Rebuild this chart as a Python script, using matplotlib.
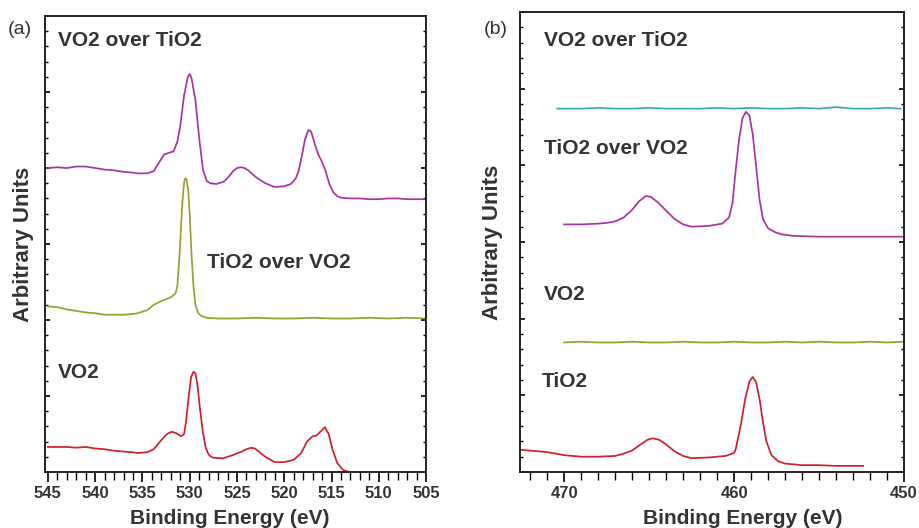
#XPS spectra, O1s/V2p (a) and Ti2p (b) regions, stacked traces
import numpy as np
import matplotlib.pyplot as plt

plt.rcParams['font.family'] = ['Liberation Sans', 'DejaVu Sans']

#panel (a): binding energy and intensity
a_vo2_over_tio2_E = [545, 544, 543, 542, 541, 540, 539, 538, 537, 536, 535.5, 534.5, 533.8, 533.2, 532.7,
                     532.2, 531.7, 531.3, 531.0, 530.6, 530.2, 530.0, 529.8, 529.4, 529.0, 528.6, 528.2,
                     527.8, 527.2, 526.4, 525.9, 525.4, 525.0, 524.6, 524.2, 523.8, 523.0, 522.0, 521.0,
                     520.0, 519.3, 518.8, 518.5, 518.2, 517.8, 517.45, 517.15, 516.8, 516.4, 516.0, 515.6,
                     515.2, 514.8, 514.4, 514.0, 513.0, 512.0, 511.0, 510.0, 509.0, 508.0, 507.0, 506.0, 505.0]
a_vo2_over_tio2_I = [4.00, 4.01, 4.00, 4.02, 4.02, 4.00, 3.98, 3.97, 3.95, 3.94, 3.93, 3.93, 3.96, 4.08, 4.18,
                     4.20, 4.22, 4.35, 4.55, 4.95, 5.20, 5.24, 5.18, 4.90, 4.40, 3.98, 3.83,
                     3.80, 3.79, 3.82, 3.88, 3.96, 4.00, 4.01, 4.00, 3.97, 3.88, 3.80, 3.75,
                     3.76, 3.79, 3.86, 3.95, 4.12, 4.38, 4.50, 4.48, 4.33, 4.18, 4.08, 3.95,
                     3.78, 3.68, 3.63, 3.61, 3.60, 3.60, 3.59, 3.59, 3.60, 3.60, 3.59, 3.59, 3.59]

a_tio2_over_vo2_E = [545, 544, 543, 542, 541, 540, 539, 538, 537, 536, 535.5, 534.5, 533.8, 533.0, 532.0,
                     531.5, 531.3, 531.05, 530.8, 530.6, 530.5, 530.35, 530.15, 530.0, 529.8, 529.6, 529.4,
                     529.1, 528.7, 528.2, 527.0, 525.0, 523.0, 521.0, 519.0, 517.0, 515.0, 513.0, 511.0,
                     509.0, 507.0, 505.0]
a_tio2_over_vo2_I = [2.18, 2.17, 2.14, 2.12, 2.10, 2.09, 2.07, 2.07, 2.07, 2.08, 2.09, 2.13, 2.20, 2.25, 2.30,
                     2.35, 2.45, 2.90, 3.50, 3.80, 3.86, 3.86, 3.70, 3.40, 2.85, 2.45, 2.20,
                     2.09, 2.05, 2.03, 2.02, 2.02, 2.03, 2.02, 2.02, 2.03, 2.02, 2.02, 2.03,
                     2.02, 2.03, 2.02]

a_vo2_E = [545, 544, 543, 542, 541, 540, 539, 538, 537, 536, 535.5, 534.5, 533.8, 533.0, 532.4, 531.9,
           531.4, 530.9, 530.6, 530.4, 530.1, 529.85, 529.6, 529.4, 529.15, 528.9, 528.6, 528.3, 528.0,
           527.6, 526.5, 525.5, 524.5, 524.0, 523.5, 523.1, 522.7, 522.0, 521.0, 520.0, 519.0, 518.2,
           517.6, 517.0, 516.6, 516.1, 515.7, 515.3, 514.9, 514.4, 513.8, 513.2, 512.6]
a_vo2_I = [0.33, 0.33, 0.33, 0.32, 0.33, 0.31, 0.30, 0.28, 0.27, 0.26, 0.25, 0.26, 0.30, 0.42, 0.50, 0.53,
           0.51, 0.47, 0.50, 0.65, 1.00, 1.25, 1.32, 1.30, 1.12, 0.82, 0.52, 0.32, 0.23,
           0.19, 0.18, 0.22, 0.27, 0.30, 0.32, 0.31, 0.27, 0.20, 0.13, 0.13, 0.16, 0.25,
           0.40, 0.47, 0.48, 0.54, 0.59, 0.50, 0.30, 0.12, 0.03, 0.00, 0.00]

#panel (b)
b_vo2_over_tio2_E = [470.4, 469, 468, 467, 466, 465, 464, 463, 462, 461, 460, 459, 458, 457, 456, 455, 454,
                     453, 452, 451, 450.2]
b_vo2_over_tio2_I = [4.74, 4.74, 4.75, 4.74, 4.74, 4.75, 4.74, 4.74, 4.74, 4.75, 4.74, 4.75, 4.74, 4.74, 4.75,
                     4.74, 4.76, 4.74, 4.74, 4.75, 4.74]

b_tio2_over_vo2_E = [470, 469, 468, 467.5, 467, 466.5, 466.0, 465.6, 465.2, 464.9, 464.5, 464.0, 463.5, 463.0,
                     462.5, 461.5, 460.7, 460.3, 460.1, 459.9, 459.7, 459.5, 459.3, 459.1, 458.9, 458.7,
                     458.5, 458.3, 458.0, 457.6, 457.2, 456.5, 455, 453.0, 450.0]
b_tio2_over_vo2_I = [3.23, 3.23, 3.24, 3.25, 3.27, 3.32, 3.42, 3.53, 3.60, 3.59, 3.52, 3.41, 3.30, 3.23,
                     3.20, 3.21, 3.24, 3.32, 3.50, 3.95, 4.35, 4.62, 4.70, 4.65, 4.40, 3.98,
                     3.55, 3.30, 3.18, 3.13, 3.10, 3.08, 3.07, 3.07, 3.07]

b_vo2_E = [470, 469, 468, 467, 466, 465, 464, 463, 462, 461, 460, 459, 458, 457, 456, 455, 454, 453, 452,
           451, 450]
b_vo2_I = [1.69, 1.70, 1.69, 1.69, 1.70, 1.69, 1.69, 1.70, 1.69, 1.69, 1.70, 1.69, 1.69, 1.70, 1.69,
           1.70, 1.69, 1.69, 1.70, 1.69, 1.70]

b_tio2_E = [472.6, 471.5, 471, 470, 469, 468, 467, 466.5, 466.0, 465.5, 465.1, 464.8, 464.4, 464.0, 463.5,
            463.0, 462.5, 461.5, 460.5, 460.0, 459.9, 459.6, 459.35, 459.1, 458.9, 458.7, 458.5, 458.3,
            458.1, 457.8, 457.4, 457.0, 456, 455, 454, 452.4]
b_tio2_I = [0.29, 0.27, 0.26, 0.22, 0.20, 0.20, 0.21, 0.24, 0.28, 0.36, 0.42, 0.44, 0.42, 0.36, 0.27,
            0.21, 0.18, 0.19, 0.21, 0.25, 0.30, 0.62, 0.95, 1.18, 1.24, 1.17, 0.95, 0.65,
            0.40, 0.22, 0.14, 0.11, 0.09, 0.09, 0.08, 0.08]

magenta = '#a8349e'
olive = '#9aa030'
red = '#d0202a'
cyan = '#38a8b8'
txt = '#333333'

fig = plt.figure(figsize=(9.19, 5.28), dpi=100)
axA = fig.add_axes([0.049, 0.106, 0.4146, 0.8636])
axB = fig.add_axes([0.5658, 0.106, 0.4179, 0.8712])

def style(ax, xlim, major, minor, labx):
    ax.set_xlim(*xlim)
    ax.set_ylim(0, 6)
    ax.set_xticks(np.arange(xlim[1], xlim[0] + 0.01, major))
    ax.set_xticks(np.arange(xlim[1], xlim[0] + 0.01, minor), minor=True)
    ax.set_yticks(np.arange(0, 6.01, 1))
    ax.set_yticks(np.arange(0, 6.01, 0.2), minor=True)
    ax.set_yticklabels([])
    for s in ax.spines.values():
        s.set_linewidth(1.4)
        s.set_color('#222222')
    ax.tick_params(axis='x', which='major', direction='out', length=7, width=1.2, top=False,
                   labelsize=12, labelcolor=txt, pad=3)
    ax.tick_params(axis='x', which='minor', direction='out', length=5.5, width=1.0, top=False)
    ax.tick_params(axis='y', which='major', direction='in', length=3.5, width=1.2, left=True, right=True)
    ax.tick_params(axis='y', which='minor', direction='in', length=2.2, width=1.0, left=True, right=True)
    for lab in ax.get_xticklabels():
        lab.set_fontweight('bold')
    ax.set_xlabel('Binding Energy (eV)', fontsize=15, fontweight='bold', color=txt)
    ax.xaxis.set_label_coords(labx, -0.081)
    ax.set_ylabel('Arbitrary Units', fontsize=16, fontweight='bold', color=txt)

style(axA, (545.3, 505), 5, 1, 0.486)
axA.yaxis.set_label_coords(-0.03, 0.5)
style(axB, (472.6, 450), 10, 1, 0.579)
axB.yaxis.set_label_coords(-0.045, 0.5)

lw = 1.25
axA.plot(a_vo2_over_tio2_E, a_vo2_over_tio2_I, color=magenta, lw=lw)
axA.plot(a_tio2_over_vo2_E, a_tio2_over_vo2_I, color=olive, lw=lw)
axA.plot(a_vo2_E, a_vo2_I, color=red, lw=lw)

axB.plot(b_vo2_over_tio2_E, b_vo2_over_tio2_I, color=cyan, lw=lw)
axB.plot(b_tio2_over_vo2_E, b_tio2_over_vo2_I, color=magenta, lw=lw)
axB.plot(b_vo2_E, b_vo2_I, color=olive, lw=lw)
axB.plot(b_tio2_E, b_tio2_I, color=red, lw=lw)

lab = dict(fontsize=15, fontweight='bold', color=txt, va='center', ha='left')
axA.text(0.034, 0.947, 'VO2 over TiO2', transform=axA.transAxes, **lab)
axA.text(0.425, 0.46, 'TiO2 over VO2', transform=axA.transAxes, **lab)
axA.text(0.034, 0.219, 'VO2', transform=axA.transAxes, **lab)

axB.text(0.0625, 0.939, 'VO2 over TiO2', transform=axB.transAxes, **lab)
axB.text(0.0625, 0.704, 'TiO2 over VO2', transform=axB.transAxes, **lab)
axB.text(0.0625, 0.387, 'VO2', transform=axB.transAxes, **lab)
axB.text(0.0575, 0.196, 'TiO2', transform=axB.transAxes, **lab)

fig.text(8 / 919, 1 - 30 / 528, '(a)', fontsize=14, color=txt, va='center', ha='left')
fig.text(484 / 919, 1 - 30 / 528, '(b)', fontsize=14, color=txt, va='center', ha='left')

fig.savefig('out.png', dpi=100)
